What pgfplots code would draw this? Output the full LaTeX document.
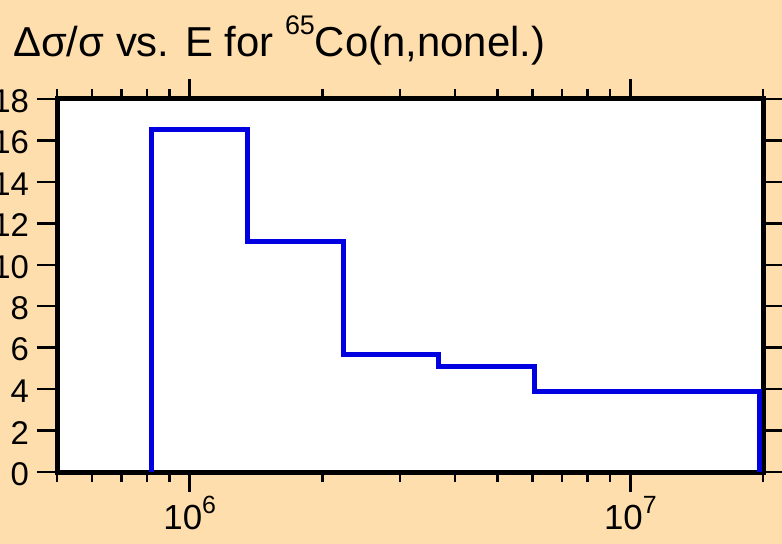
\documentclass[border=0pt]{standalone}
\usepackage{fontspec}
\setmainfont{Liberation Sans}
\usepackage{pgfplots}
\pgfplotsset{compat=1.18}
\definecolor{bgc}{RGB}{255,222,173}
\definecolor{lineblue}{RGB}{0,0,225}
\begin{document}
\begin{tikzpicture}
\useasboundingbox (-57bp,-72bp) rectangle (725bp,472bp);
\clip (-57bp,-72bp) rectangle (725bp,472bp);
\fill[bgc] (-57bp,-72bp) rectangle (725bp,472bp);
\begin{axis}[
  at={(0,0)}, anchor=south west,
  scale only axis, width=706bp, height=373bp,
  xmode=log, xmin=5e5, xmax=2e7,
  ymin=0, ymax=18,
  xtick={1e6,1e7},
  xticklabels={{10\raisebox{16bp}{\fontsize{25}{25}\selectfont 6}},{10\raisebox{16bp}{\fontsize{25}{25}\selectfont 7}}},
  minor xtick={5e5,6e5,7e5,8e5,9e5,2e6,3e6,4e6,5e6,6e6,7e6,8e6,9e6,2e7},
  ytick={0,2,...,18},
  /pgf/number format/assume math mode=true,
  tick align=outside,
  xtick pos=both, ytick pos=both,
  major tick length=20bp, minor tick length=10bp,
  every tick/.style={black, line width=2.5bp},
  every minor tick/.style={black, line width=2.5bp},
  axis line style={line width=5bp, black},
  axis background/.style={fill=white},
  xticklabel style={font=\fontsize{35}{40}\selectfont, inner sep=0pt, yshift=-4bp},
  yticklabel style={font=\fontsize{33}{38}\selectfont, inner sep=0pt, xshift=-8bp, yshift=-2bp},
  clip=false,
]
\addplot[const plot, lineblue, line width=5bp] coordinates {
  (8.21e5,0) (8.21e5,16.55) (1.353e6,11.1) (2.231e6,5.65) (3.679e6,5.08)
  (6.065e6,3.9) (1e7,3.87) (1.96e7,0)
};
\end{axis}
\node[anchor=base west, inner sep=0pt, font=\fontsize{42}{50}\selectfont] at (-44bp,415bp)
  {Δσ/σ vs. E for \raisebox{22bp}{\fontsize{27}{27}\selectfont 65}Co(n,nonel.)};
\end{tikzpicture}
\end{document}
